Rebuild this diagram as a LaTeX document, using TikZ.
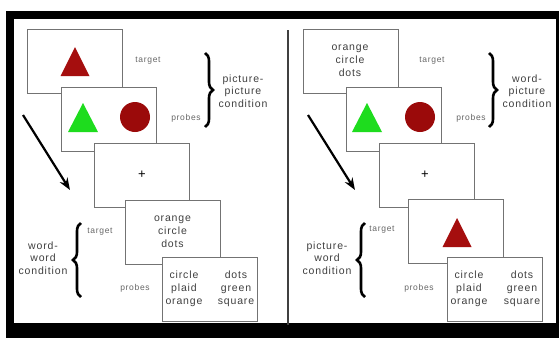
\documentclass[tikz,border=0pt]{standalone}
\usepackage{fontspec}
\setmainfont{Liberation Sans}
\newfontfamily\widefont[LetterSpace=8]{Liberation Sans}
\usetikzlibrary{decorations.pathreplacing,arrows.meta,calc}
\definecolor{tred}{RGB}{165,14,14}
\definecolor{cred}{RGB}{155,10,10}
\definecolor{tgreen}{RGB}{30,220,30}
\begin{document}
\begin{tikzpicture}[x=1pt,y=-1pt,
 box/.style={draw=black!55,line width=0.8pt,fill=white,minimum width=95pt,minimum height=64pt,inner sep=0pt},
 words/.style={align=center,font=\widefont\fontsize{10.5}{12.8}\selectfont,text=black!75,inner sep=0pt},
 lbl/.style={font=\widefont\fontsize{8.5}{10}\selectfont,text=black!60,inner sep=0pt},
 cond/.style={align=center,font=\widefont\fontsize{10.5}{12.4}\selectfont,text=black!75,inner sep=0pt},
 brc/.style={decorate,decoration={brace,amplitude=8pt},line width=2.6pt},
 arr/.style={line width=2.2pt,-{Stealth[length=12pt,width=9pt]}},
 divider/.style={draw=black!75,line width=1.5pt}]
\useasboundingbox (0,0) rectangle (559,338);
\fill[white] (0,0) rectangle (559,338);
\fill[black] (6,11) rectangle (559,338);
\fill[white] (14,19) rectangle (556,323);
% divider
\coordinate (dtop) at (288,30);
\coordinate (dbot) at (288,325);
\draw[divider] (dtop) -- (dbot);
% ---------- left panel ----------
\node[box] (L1) at (74.5,61) {};
\fill[tred] (75,47) -- (89.5,76) -- (60.5,76) -- cycle;
\node[box] (L2) at (109,119.5) {};
\fill[tgreen] (83,103) -- (98,132) -- (68,132) -- cycle;
\fill[cred] (135,117) circle (15);
\node[box] (L3) at (141.5,175) {};
\node[words,font=\fontsize{13}{14}\selectfont,text=black] (L3t) at (142,175) {+};
\node[box] (L4) at (172.5,232) {};
\node[words] (L4t) at (172.5,232) {orange\\circle\\dots};
\node[box] (L5) at (210,289) {};
\node[words] (L5a) at (184,289) {circle\\plaid\\orange};
\node[words] (L5b) at (236,289) {dots\\green\\square};
\node[lbl] (Lt1) at (148,61) {target};
\node[lbl] (Lp1) at (186,118) {probes};
\node[lbl] (Lt2) at (100,232) {target};
\node[lbl] (Lp2) at (135,288) {probes};
\coordinate (LB1a) at (205,53);
\coordinate (LB1b) at (205,127);
\draw[brc] (LB1a) -- (LB1b);
\coordinate (LB2a) at (81,297);
\coordinate (LB2b) at (81,223);
\draw[brc] (LB2a) -- (LB2b);
\node[cond] (Lc1) at (243,91) {picture-\\picture\\condition};
\node[cond] (Lc2) at (43,258) {word-\\word\\condition};
\coordinate (La1) at (23,115);
\coordinate (La2) at (70,190);
\draw[arr] (La1) -- (La2);
% ---------- right panel ----------
\node[box] (R1) at (350.5,61) {};
\node[words] (R1t) at (350,61) {orange\\circle\\dots};
\node[box] (R2) at (394,119) {};
\fill[tgreen] (367,103) -- (382,132) -- (352,132) -- cycle;
\fill[cred] (420,117) circle (15);
\node[box] (R3) at (426.5,175) {};
\node[words,font=\fontsize{13}{14}\selectfont,text=black] (R3t) at (425,175) {+};
\node[box] (R4) at (456,231.5) {};
\fill[tred] (457,218) -- (471.5,247) -- (442.5,247) -- cycle;
\node[box] (R5) at (495,289) {};
\node[words] (R5a) at (469,289) {circle\\plaid\\orange};
\node[words] (R5b) at (522,289) {dots\\green\\square};
\node[lbl] (Rt1) at (432,61) {target};
\node[lbl] (Rp1) at (471,118) {probes};
\node[lbl] (Rt2) at (382,230) {target};
\node[lbl] (Rp2) at (419,288) {probes};
\coordinate (RB1a) at (489,53);
\coordinate (RB1b) at (489,127);
\draw[brc] (RB1a) -- (RB1b);
\coordinate (RB2a) at (365,297);
\coordinate (RB2b) at (365,223);
\draw[brc] (RB2a) -- (RB2b);
\node[cond] (Rc1) at (527,91) {word-\\picture\\condition};
\node[cond] (Rc2) at (327,258) {picture-\\word\\condition};
\coordinate (Ra1) at (308,115);
\coordinate (Ra2) at (355,190);
\draw[arr] (Ra1) -- (Ra2);
\end{tikzpicture}
\end{document}
